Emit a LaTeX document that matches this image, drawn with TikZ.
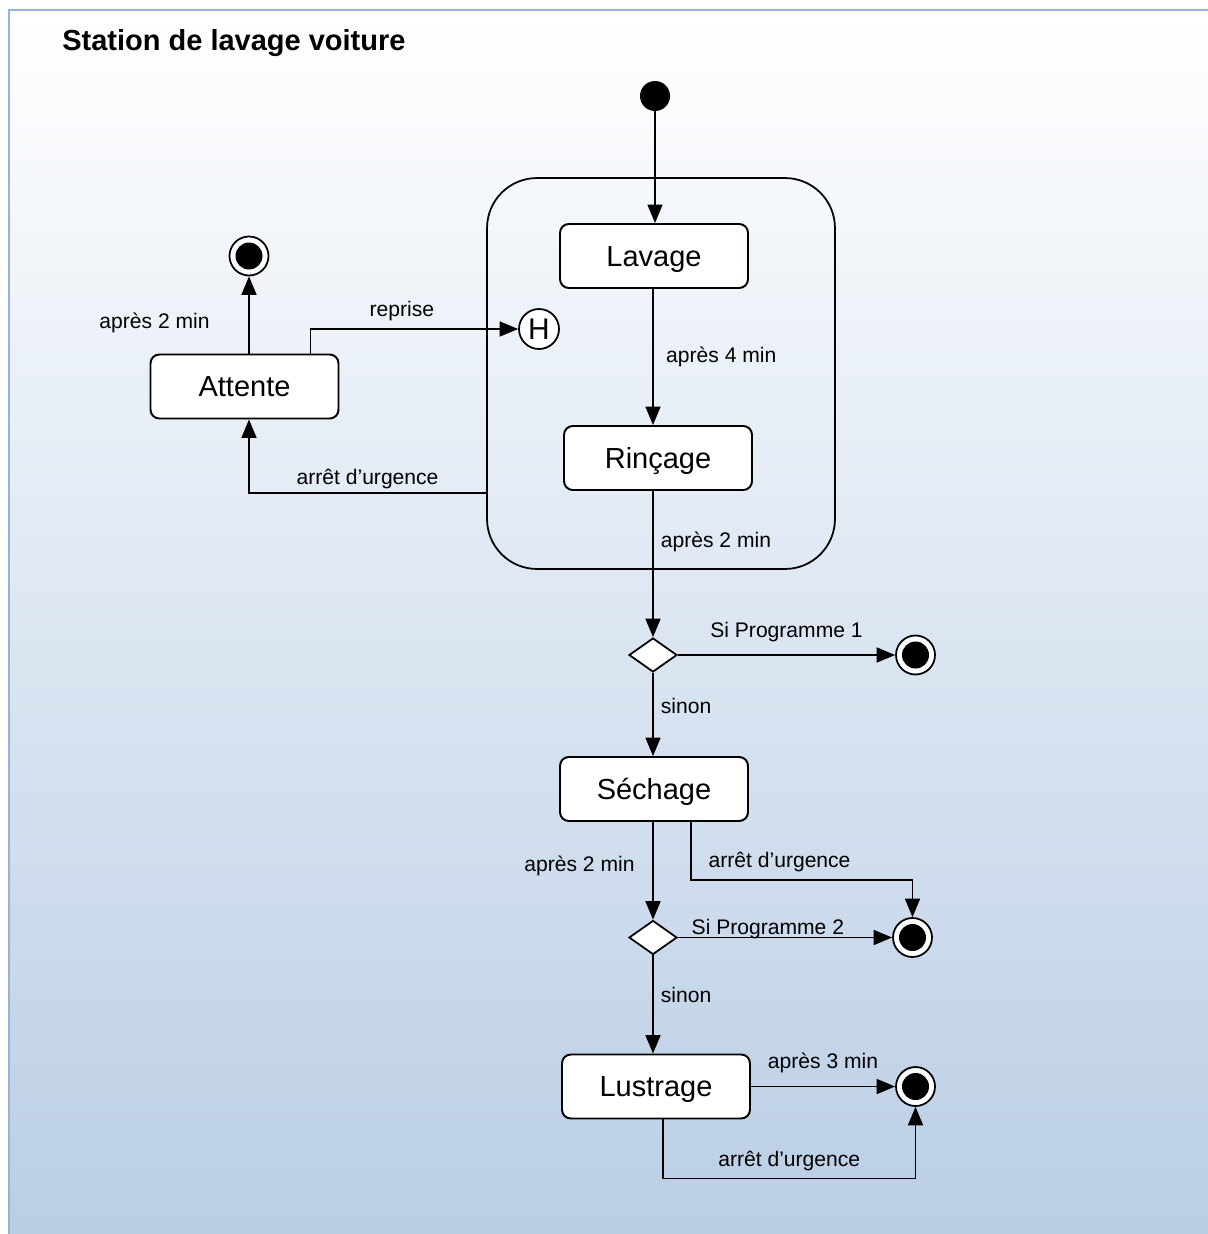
\documentclass[tikz,border=0pt]{standalone}
\usepackage{fontspec}
\setmainfont{Liberation Sans}
\usepackage{tikz}
\usetikzlibrary{arrows.meta,positioning,calc,shapes.geometric}
\definecolor{lvframe}{HTML}{95B3D7}
\definecolor{lvbottom}{HTML}{B9CDE5}

\begin{document}
\begin{tikzpicture}[x=0.02cm, y=-0.02cm,
  font=\fontsize{12}{14}\selectfont,
  state/.style={rectangle, rounded corners=5pt, draw, line width=1.1pt, fill=white,
                minimum width=3.76cm, minimum height=1.28cm, inner sep=0pt,
                text height=11.8pt, text depth=0pt,
                font=\fontsize{16.5}{19}\selectfont},
  superst/.style={rectangle, rounded corners=1cm, draw, line width=1pt,
                  minimum width=6.96cm, minimum height=7.82cm},
  initst/.style={circle, fill=black, minimum size=0.6cm, inner sep=0pt},
  finalst/.style={circle, draw, line width=1pt, fill=white, minimum size=0.78cm, inner sep=0pt,
                  path picture={\fill[black] (path picture bounding box.center) circle (0.27cm);}},
  hist/.style={circle, draw, line width=1pt, fill=white, minimum size=0.8cm, inner sep=0pt,
               font=\fontsize{17}{19}\selectfont},
  choice/.style={diamond, draw, line width=1pt, fill=white, minimum width=0.96cm,
                 minimum height=0.68cm, inner sep=0pt},
  arr/.style={-{Triangle[length=10.5pt,width=8.5pt]}, line width=1pt},
  lbl/.style={inner sep=2pt}]
\useasboundingbox (0,0) rectangle (1207,1234);
% background and frame
\fill[white] (0,0) rectangle (1207,1234);
\shade[top color=white, bottom color=lvbottom] (9,10) rectangle (1230,1250);
\draw[lvframe, line width=1.3pt] (9,1250) -- (9,10) -- (1230,10);
\node[anchor=base west, inner sep=0pt, font=\fontsize{16.5}{19}\selectfont\bfseries] (title) at (62,50) {Station de lavage voiture};

% states
\node[superst] (comp) at (661,373.5) {};
\node[initst] (init) at (655,96) {};
\node[state] (lav) at (654,256) {Lavage};
\node[state] (rinc) at (658,458) {Rinçage};
\node[hist] (hist) at (539,329) {H};
\node[state] (att) at (244.5,386.5) {Attente};
\node[finalst] (fin0) at (249,256) {};
\node[choice] (d1) at (653,655) {};
\node[finalst] (fin1) at (915.5,655) {};
\node[state] (sech) at (654,789) {Séchage};
\node[choice] (d2) at (653,937.5) {};
\node[finalst] (fin2) at (912.5,937.5) {};
\node[state] (lus) at (656,1086.5) {Lustrage};
\node[finalst] (fin3) at (915.5,1086.5) {};

% transitions
\draw[arr] (init) -- (init |- lav.north);
\draw[arr] (d1 |- lav.south) -- (d1 |- rinc.north) node[lbl, midway, right=5pt] {après 4 min};
\draw[arr] (d1 |- rinc.south) -- (d1) node[lbl, pos=0.35, right=2pt] {après 2 min};
\draw[arr] (d1) -- (fin1) node[lbl, midway, above=5pt] {Si Programme 1};
\draw[arr] (d1) -- (d1 |- sech.north) node[lbl, pos=0.4, right=2pt] {sinon};
\draw[arr] (d2 |- sech.south) -- (d2) node[lbl, pos=0.45, left=8pt] {après 2 min};
\draw[arr] ([xshift=0.74cm]sech.south) -- ++(0,58) -| (fin2) node[lbl, pos=0.2, above=2pt] {arrêt d’urgence};
\draw[arr] (d2) -- (fin2) node[lbl, pos=0.42, anchor=south, yshift=-0.12cm] {Si Programme 2};
\draw[arr] (d2) -- (d2 |- lus.north) node[lbl, pos=0.4, right=2pt] {sinon};
\draw[arr] (lus) -- (fin3) node[lbl, midway, above=5pt] {après 3 min};
\draw[arr] ([xshift=0.14cm]lus.south) -- ++(0,59) -| (fin3) node[lbl, pos=0.25, above=2pt] {arrêt d’urgence};
\draw[arr] (att.north -| fin0) -- (fin0) node[lbl, pos=0.4, left=0.7cm] {après 2 min};
\draw[arr] ([xshift=-0.58cm]att.north east) |- (hist) node[lbl, pos=0.72, above=2pt] {reprise};
\draw[arr] ([yshift=-2.39cm]comp.west) -| (fin0 |- att.south) node[lbl, pos=0.25, above] {arrêt d’urgence};
\end{tikzpicture}
\end{document}
